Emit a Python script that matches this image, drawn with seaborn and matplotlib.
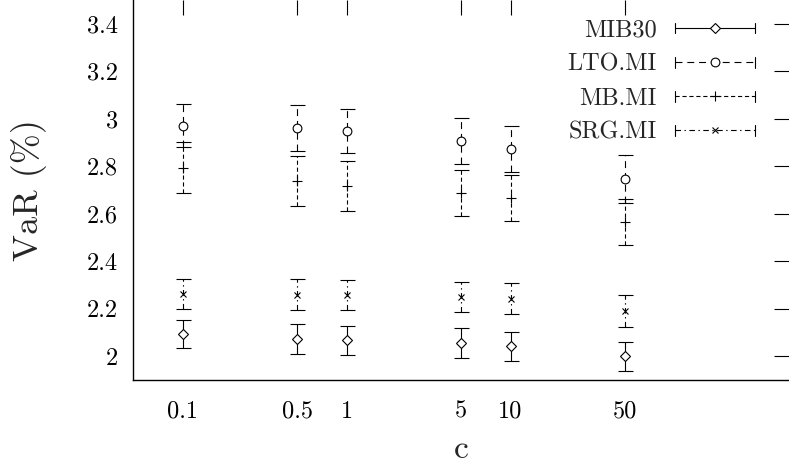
import numpy as np
import pandas as pd
import seaborn as sns
import matplotlib
matplotlib.use("Agg")
import matplotlib.pyplot as plt
from matplotlib.lines import Line2D
from matplotlib.legend_handler import HandlerBase
from matplotlib.ticker import FixedLocator, FixedFormatter, FuncFormatter, NullLocator

# values
c_values = [0.1, 0.5, 1, 5, 10, 50]
c_labels = ["0.1", "0.5", "1", "5", "10", "50"]

mib30 = [2.094, 2.073, 2.066, 2.055, 2.042, 1.999]
mib30_err = [0.060, 0.064, 0.060, 0.063, 0.061, 0.060]

lto = [2.971, 2.961, 2.949, 2.905, 2.871, 2.747]
lto_err = [0.089, 0.095, 0.094, 0.097, 0.097, 0.102]

mb = [2.794, 2.739, 2.718, 2.688, 2.665, 2.564]
mb_err = [0.106, 0.106, 0.105, 0.098, 0.097, 0.096]

srg = [2.263, 2.258, 2.257, 2.250, 2.242, 2.191]
srg_err = [0.064, 0.065, 0.064, 0.064, 0.065, 0.067]

names = ["MIB30", "LTO.MI", "MB.MI", "SRG.MI"]

df = pd.concat([
    pd.DataFrame({"c": c_values, "var": v, "err": e, "series": n})
    for v, e, n in [(mib30, mib30_err, names[0]), (lto, lto_err, names[1]),
                    (mb, mb_err, names[2]), (srg, srg_err, names[3])]
])

styles = {
    "MIB30": dict(ls="-", marker="D", ms=5.2),
    "LTO.MI": dict(ls=(0, (5, 3.5)), marker="o", ms=6.3),
    "MB.MI": dict(ls=(0, (3, 2)), marker="+", ms=7),
    "SRG.MI": dict(ls=(0, (4, 2.5, 1, 2.5)), marker="x", ms=4.6),
}

sns.set_style("white")
plt.rcParams["font.family"] = ["cmr10", "DejaVu Serif"]
plt.rcParams["mathtext.fontset"] = "cm"
plt.rcParams["axes.formatter.use_mathtext"] = True
plt.rcParams["lines.scale_dashes"] = False


class CappedLineHandler(HandlerBase):
    # gnuplot style key: line with end caps and the point in the middle
    def create_artists(self, legend, orig_handle, xdescent, ydescent,
                       width, height, fontsize, trans):
        y = height / 2.0 - ydescent
        x0, x1 = -xdescent, width - xdescent
        half = 0.3 * height
        line = Line2D([x0, x1], [y, y])
        line.update_from(orig_handle)
        line.set_marker("None")
        caps = [Line2D([x, x], [y - half, y + half], color="black",
                       lw=orig_handle.get_linewidth()) for x in (x0, x1)]
        mark = Line2D([(x0 + x1) / 2], [y])
        mark.update_from(orig_handle)
        mark.set_linestyle("None")
        arts = [line] + caps + [mark]
        for a in arts:
            a.set_transform(trans)
        return arts


fig = plt.figure(figsize=(7.89, 4.69), dpi=100)
ax = fig.add_axes([0.169, 0.19, 0.831, 0.81])

handles = []
for name in names:
    sub = df[df["series"] == name]
    st = styles[name]
    eb = ax.errorbar(sub["c"], sub["var"], yerr=sub["err"], fmt="none",
                     ecolor="black", elinewidth=0.8, capsize=5.4, capthick=0.8)
    eb[2][0].set_linestyle(st["ls"])
    ax.plot(sub["c"], sub["var"], ls="none", marker=st["marker"], ms=st["ms"],
            mec="black", mfc="white", mew=0.8, zorder=3)
    handles.append(Line2D([], [], color="black", lw=0.8, ls=st["ls"],
                          marker=st["marker"], ms=st["ms"], mec="black",
                          mfc="white", mew=0.8))

ax.set_xscale("log")
ax.set_xlim(0.05, 500)
ax.set_ylim(1.9, 3.5)
ax.xaxis.set_major_locator(FixedLocator(c_values))
ax.xaxis.set_major_formatter(FixedFormatter(c_labels))
ax.xaxis.set_minor_locator(NullLocator())
ax.set_yticks(np.arange(2.0, 3.41, 0.2))
ax.yaxis.set_major_formatter(FuncFormatter(lambda v, p: "%g" % round(v, 1)))

ax.tick_params(axis="both", direction="in", length=10.8, width=0.8,
               top=True, right=True, labelsize=17.5, colors="black")
ax.tick_params(axis="x", pad=15)
ax.tick_params(axis="y", pad=11)
for side in ["top", "right"]:
    ax.spines[side].set_visible(False)
for side in ["left", "bottom"]:
    ax.spines[side].set_linewidth(1.0)
    ax.spines[side].set_color("black")

ax.set_xlabel("c", fontsize=24, labelpad=9)
ax.set_ylabel("VaR (%)", fontsize=26, labelpad=29)

ax.legend(handles, names, handler_map={Line2D: CappedLineHandler()},
          loc="upper right", bbox_to_anchor=(0.948, 0.948), frameon=False,
          markerfirst=False, fontsize=17.5, handlelength=3.3, handletextpad=0.74,
          labelspacing=0.49, borderpad=0, borderaxespad=0)

fig.savefig("out.png", dpi=100)
